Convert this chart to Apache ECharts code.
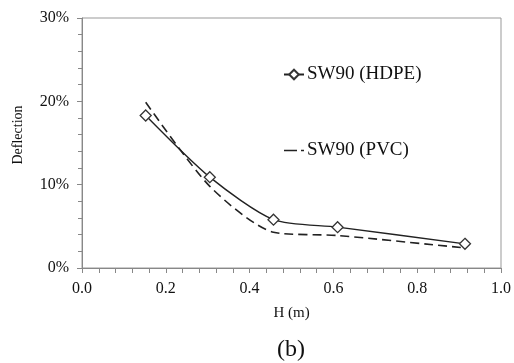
<!DOCTYPE html>
<html>
<head>
<meta charset="utf-8">
<script src="https://cdn.jsdelivr.net/npm/echarts@6/dist/echarts.min.js"></script>
<style>html,body{margin:0;padding:0;background:#fff;}#c{width:514px;height:363px;}</style>
</head>
<body>
<div id="c"></div>
<script>
var hValues = [0.152, 0.305, 0.457, 0.61, 0.914];
var hdpeDeflection = [18.3, 10.9, 5.8, 4.9, 2.9];
var pvcDeflection = [19.9, 9.8, 4.3, 3.9, 2.4];
var seriesNames = ['SW90 (HDPE)', 'SW90 (PVC)'];
var xTitle = 'H (m)';
var yTitle = 'Deflection';
var panelLabel = '(b)';

function pairs(xs, ys) { return xs.map(function (x, i) { return [x, ys[i]]; }); }

var font = 'Liberation Serif, Times New Roman, serif';
var chart = echarts.init(document.getElementById('c'));
chart.setOption({
  animation: false,
  backgroundColor: '#fff',
  grid: { left: 82, right: 12, top: 18, bottom: 95, show: true, borderColor: '#999', borderWidth: 1 },
  title: {
    text: panelLabel, left: 291, top: 338, textAlign: 'center', padding: 0,
    textStyle: { fontFamily: font, fontSize: 24, fontWeight: 'normal', color: '#111' }
  },
  graphic: [{
    type: 'text', x: 18, y: 135, rotation: Math.PI / 2,
    style: { text: yTitle, fontFamily: font, fontSize: 14, fill: '#111', align: 'center', verticalAlign: 'middle' }
  }],
  legend: {
    orient: 'vertical', left: 278, top: 60, itemGap: 57, itemWidth: 20, itemHeight: 12,
    data: [
      { name: seriesNames[0] },
      { name: seriesNames[1], icon: 'path://M0,0H13V1.6H0Z M17,0H20V1.6H17Z' }
    ],
    textStyle: { fontFamily: font, fontSize: 19, color: '#111', padding: [0, 0, 0, -2] }
  },
  xAxis: {
    type: 'value', min: 0, max: 1, interval: 0.2,
    name: xTitle, nameLocation: 'middle', nameGap: 38,
    nameTextStyle: { fontFamily: font, fontSize: 15, color: '#111' },
    axisLine: { show: true, lineStyle: { color: '#888' } },
    axisTick: { show: true, inside: false, length: 5, lineStyle: { color: '#888' } },
    minorTick: { show: true, splitNumber: 5, length: 5, lineStyle: { color: '#888' } },
    splitLine: { show: false },
    axisLabel: { fontFamily: font, fontSize: 16, color: '#111', margin: 13, formatter: function (v) { return v.toFixed(1); } }
  },
  yAxis: {
    type: 'value', min: 0, max: 30, interval: 10,
    axisLine: { show: true, lineStyle: { color: '#888' } },
    axisTick: { show: true, length: 5, lineStyle: { color: '#888' } },
    minorTick: { show: true, splitNumber: 5, length: 4, lineStyle: { color: '#888' } },
    splitLine: { show: false },
    axisLabel: { fontFamily: font, fontSize: 16, color: '#111', margin: 13, formatter: '{value}%' }
  },
  series: [
    {
      name: seriesNames[0], type: 'line', smooth: 0.25,
      data: pairs(hValues, hdpeDeflection),
      symbol: 'diamond', symbolSize: 11, showAllSymbol: true,
      lineStyle: { color: '#222', width: 1.4 },
      itemStyle: { color: '#fff', borderColor: '#333', borderWidth: 1.3 },
      z: 3
    },
    {
      name: seriesNames[1], type: 'line', smooth: 0.25,
      data: pairs(hValues, pvcDeflection),
      symbol: 'none',
      lineStyle: { color: '#222', width: 1.6, type: [9, 5] },
      itemStyle: { color: '#222' },
      z: 2
    }
  ]
});
</script>
</body>
</html>
